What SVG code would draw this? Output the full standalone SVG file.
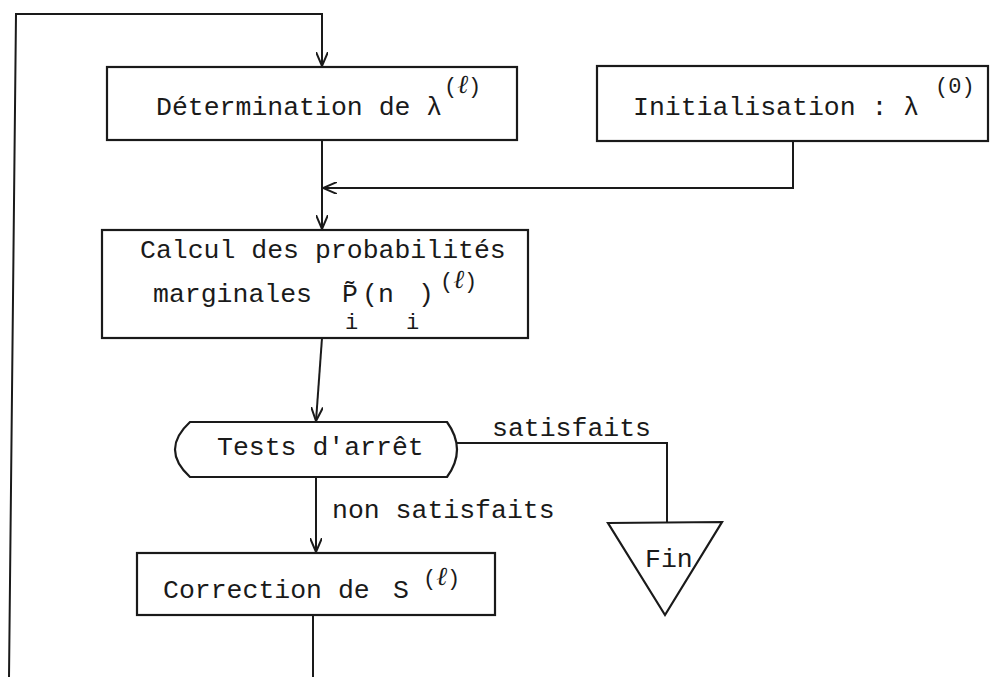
<svg xmlns="http://www.w3.org/2000/svg" width="990" height="677" viewBox="0 0 990 677">
<defs>
<marker id="arr" viewBox="0 0 14 12" refX="14" refY="6" markerWidth="14" markerHeight="12" markerUnits="userSpaceOnUse" orient="auto">
<path d="M0,0 L14,6 L0,12" fill="none" stroke="#1a1a1a" stroke-width="2"/>
</marker>
<style>
.sh{fill:#fff;stroke:#1a1a1a;stroke-width:2.2}
.ln{fill:none;stroke:#1a1a1a;stroke-width:2}
.t{font-family:"Liberation Mono","DejaVu Sans Mono",monospace;font-size:26.5px;fill:#1a1a1a}
.s{font-family:"Liberation Mono","DejaVu Sans Mono",monospace;font-size:22px;fill:#1a1a1a}
.l{font-family:"Liberation Serif","DejaVu Serif",serif;font-style:italic;font-size:26px}
</style>
</defs>
<rect width="990" height="677" fill="#fff"/>
<g id="connectors">
<polyline class="ln" points="9,677 16,14 322,14 322,66" marker-end="url(#arr)"/>
<polyline class="ln" points="322,140 322,229" marker-end="url(#arr)"/>
<polyline class="ln" points="793,141 793,188 323,188" marker-end="url(#arr)"/>
<polyline class="ln" points="322,338 316,421" marker-end="url(#arr)"/>
<polyline class="ln" points="316,477 316,552" marker-end="url(#arr)"/>
<polyline class="ln" points="457,443 667,443 667,523"/>
<polyline class="ln" points="313,615 313,677"/>
<text class="t" x="492" y="436">satisfaits</text>
<text class="t" x="332" y="518">non satisfaits</text>
</g>
<g id="determination">
<rect class="sh" x="107" y="67" width="410" height="73"/>
<text class="t" x="156" y="115">Détermination de λ<tspan class="s" x="444" y="93">(<tspan class="l">ℓ</tspan>)</tspan></text>
</g>
<g id="initialisation">
<rect class="sh" x="597" y="66" width="391" height="75"/>
<text class="t" x="633" y="115">Initialisation : λ<tspan class="s" x="935" y="93">(0)</tspan></text>
</g>
<g id="calcul">
<rect class="sh" x="102" y="230" width="426" height="108"/>
<text class="t" x="140" y="258">Calcul des probabilités</text>
<text class="t" x="153" y="302">marginales<tspan x="342" y="302">P̃</tspan><tspan class="s" x="345" y="329">i</tspan><tspan x="362" y="302">(n</tspan><tspan class="s" x="406" y="329">i</tspan><tspan x="418" y="302">)</tspan><tspan class="s" x="440" y="288">(<tspan class="l">ℓ</tspan>)</tspan></text>
</g>
<g id="tests">
<path class="sh" d="M190,422 L447,422 Q467,449.5 447,477 L190,477 Q160,449.5 190,422 Z"/>
<text class="t" x="217" y="455">Tests d'arrêt</text>
</g>
<g id="correction">
<rect class="sh" x="137" y="553" width="358" height="62"/>
<text class="t" x="163" y="598">Correction de<tspan x="393" y="598">S</tspan><tspan class="s" x="423" y="585">(<tspan class="l">ℓ</tspan>)</tspan></text>
</g>
<g id="fin">
<polygon class="sh" points="608,523 722,522 665,615"/>
<text class="t" x="645" y="567">Fin</text>
</g>
</svg>
